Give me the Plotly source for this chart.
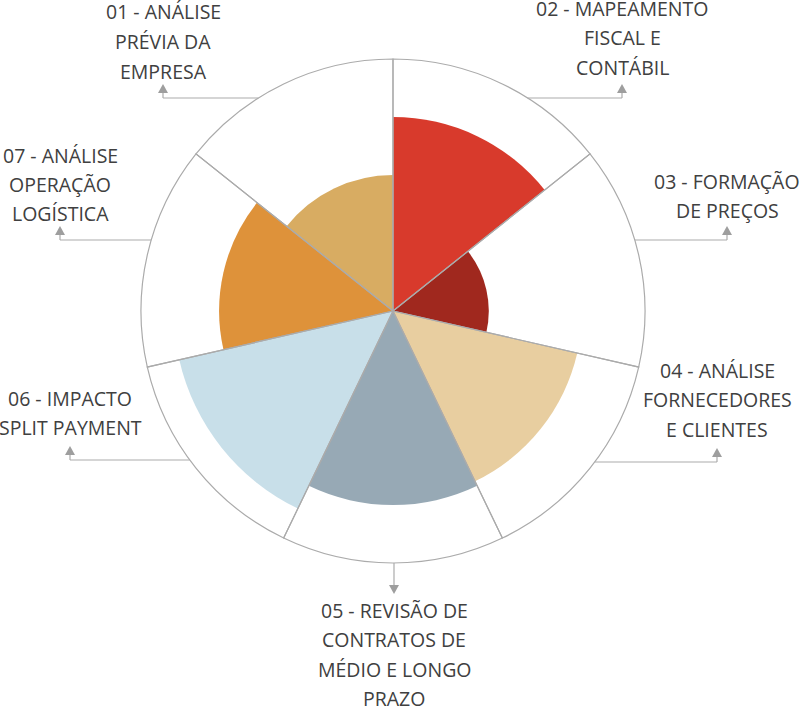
import math
import plotly.graph_objects as go

# ---- data ----
categories = ["01", "02", "03", "04", "05", "06", "07"]
values = [54, 77, 38, 75, 77, 87, 69]
full_value = [100, 100, 100, 100, 100, 100, 100]
colors = ["#D8AC62", "#D83A2C", "#A0281E", "#E8CEA0", "#97A9B5", "#C8DFE9", "#DE923A"]
label_lines = [
    ["01 - ANÁLISE", "PRÉVIA DA", "EMPRESA"],
    ["02 - MAPEAMENTO", "FISCAL E", "CONTÁBIL"],
    ["03 - FORMAÇÃO", "DE PREÇOS"],
    ["04 - ANÁLISE", "FORNECEDORES", "E CLIENTES"],
    ["05 - REVISÃO DE", "CONTRATOS DE", "MÉDIO E LONGO", "PRAZO"],
    ["06 - IMPACTO", "SPLIT PAYMENT"],
    ["07 - ANÁLISE", "OPERAÇÃO", "LOGÍSTICA"],
]

# ---- layout geometry (pixels) ----
W, H = 800, 708
CX, CY, R = 393, 311, 252
RANGE_MAX = 101
LINE_H = 29.5
# label placement: text centre x, first line y, leader y (None = vertical), side
label_pos = [
    dict(tx=163, ty=12, ly=98, side=-1),
    dict(tx=622, ty=8, ly=98, side=1),
    dict(tx=727, ty=181, ly=240, side=1),
    dict(tx=717, ty=370, ly=462, side=1),
    dict(tx=394, ty=610, ly=None, side=0),
    dict(tx=70, ty=398, ly=460, side=-1),
    dict(tx=60, ty=155, ly=240, side=-1),
]

def px(x):
    return x / W

def py(y):
    return 1 - y / H

n = len(categories)
half = 360 / n / 2
RD = R * RANGE_MAX / max(full_value)

fig = go.Figure()
fig.add_trace(go.Barpolar(
    r=values, theta=categories, marker=dict(color=colors, line=dict(width=0)),
    hoverinfo="skip", showlegend=False))
fig.add_trace(go.Barpolar(
    r=full_value, theta=categories,
    marker=dict(color="rgba(0,0,0,0)", line=dict(color="#ABABAB", width=1.2)),
    hoverinfo="skip", showlegend=False))

LC = "#ABABAB"
AC = "#9E9E9E"
shapes = []
annotations = []
for lines, p in zip(label_lines, label_pos):
    for i, t in enumerate(lines):
        annotations.append(dict(
            x=px(p["tx"]), y=py(p["ty"] + i * LINE_H), xref="paper", yref="paper",
            text=t, showarrow=False, xanchor="center", yanchor="middle",
            font=dict(family="Open Sans", size=19.5, color="#404040")))
    tx = p["tx"]
    if p["ly"] is None:
        y0 = CY + R
        y1 = y0 + 22
        shapes.append(dict(type="line", xref="paper", yref="paper",
                           x0=px(tx), y0=py(y0), x1=px(tx), y1=py(y1),
                           line=dict(color=LC, width=1.2)))
        path = "M {} {} L {} {} L {} {} Z".format(
            px(tx - 5), py(y1), px(tx + 5), py(y1), px(tx), py(y1 + 9))
        shapes.append(dict(type="path", xref="paper", yref="paper", path=path,
                           fillcolor=AC, line=dict(width=0)))
    else:
        ly = p["ly"]
        dy = ly - CY
        sx = CX + p["side"] * math.sqrt(R * R - dy * dy)
        shapes.append(dict(type="line", xref="paper", yref="paper",
                           x0=px(sx), y0=py(ly), x1=px(tx), y1=py(ly),
                           line=dict(color=LC, width=1.2)))
        shapes.append(dict(type="line", xref="paper", yref="paper",
                           x0=px(tx), y0=py(ly), x1=px(tx), y1=py(ly - 6),
                           line=dict(color=LC, width=1.2)))
        path = "M {} {} L {} {} L {} {} Z".format(
            px(tx - 5), py(ly - 5), px(tx + 5), py(ly - 5), px(tx), py(ly - 14))
        shapes.append(dict(type="path", xref="paper", yref="paper", path=path,
                           fillcolor=AC, line=dict(width=0)))

fig.update_layout(
    width=W, height=H, margin=dict(l=0, r=0, t=0, b=0),
    paper_bgcolor="white", plot_bgcolor="white",
    polar=dict(
        domain=dict(x=[px(CX - RD), px(CX + RD)], y=[py(CY + RD), py(CY - RD)]),
        bgcolor="white", bargap=0, hole=0, barmode="overlay",
        radialaxis=dict(range=[0, RANGE_MAX], visible=False, showgrid=False),
        angularaxis=dict(type="category", categoryarray=categories,
                         direction="clockwise", rotation=90 + half,
                         visible=False, showgrid=False, showline=False),
    ),
    shapes=shapes, annotations=annotations,
)

fig.write_html("out.html", config={"displayModeBar": False},
               post_script="document.body.style.margin='0';document.body.style.overflow='hidden';")
